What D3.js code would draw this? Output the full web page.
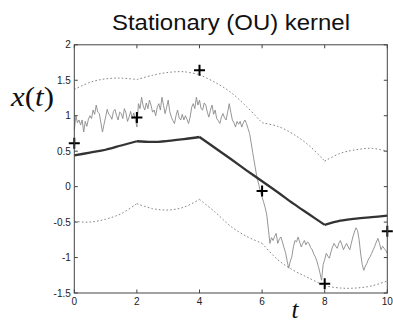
<!DOCTYPE html>
<html><head><meta charset="utf-8">
<script src="https://cdn.jsdelivr.net/npm/d3@7"></script>
<style>html,body{margin:0;padding:0;background:#fff;}svg{display:block;}</style>
</head><body>
<script>
// ---- data ----
const title = "Stationary (OU) kernel";
const xTicks = [0, 2, 4, 6, 8, 10];
const yTicks = [-1.5, -1, -0.5, 0, 0.5, 1, 1.5, 2];
const xDomain = [0, 10];
const yDomain = [-1.5, 2];

// observations (+)
const obsT = [0, 2, 4, 6, 8, 10];
const obsX = [0.61, 0.975, 1.64, -0.06, -1.37, -0.63];

// posterior mean and +-2 sd band, sampled on a grid (kinks at observation times)
const gridT = [0, 0.5, 1, 1.5, 2, 2.5, 3, 3.5, 4, 4.5, 5, 5.5, 6, 6.5, 7, 7.5, 8, 8.5, 9, 9.5, 10];
const meanX = [0.44, 0.48, 0.52, 0.58, 0.64, 0.63, 0.645, 0.67, 0.70, 0.545, 0.39, 0.23, 0.075, -0.08, -0.24, -0.39, -0.54, -0.48, -0.45, -0.43, -0.41];
const upperX = [1.37, 1.47, 1.52, 1.53, 1.51, 1.57, 1.61, 1.62, 1.58, 1.47, 1.33, 1.13, 0.90, 0.85, 0.74, 0.58, 0.36, 0.47, 0.52, 0.54, 0.50];
const lowerX = [-0.49, -0.50, -0.46, -0.38, -0.24, -0.31, -0.33, -0.29, -0.18, -0.36, -0.56, -0.70, -0.80, -1.03, -1.18, -1.29, -1.40, -1.43, -1.43, -1.40, -1.33];

// sample path, step 0.05 from t=0 to t=10
const sampleStep = 0.05;
const sampleX = [
 0.80,1.00,0.90,0.94,0.87,0.94,0.77,0.92,0.85,0.95,
 1.00,0.96,1.08,1.02,1.15,1.05,1.03,0.90,0.77,0.88,
 0.98,1.09,1.02,1.00,0.95,1.06,1.09,1.00,0.94,1.05,
 1.03,0.96,1.10,1.04,0.92,0.98,1.06,0.96,1.04,0.95,
 0.84,1.17,1.10,1.26,1.14,1.08,1.18,1.10,1.22,1.15,
 1.05,1.08,1.00,1.12,1.17,1.08,1.26,1.15,1.03,1.12,
 1.22,1.06,0.98,0.93,0.89,1.00,1.08,0.97,0.94,1.02,
 0.94,1.00,0.95,0.89,0.98,1.12,1.17,1.10,1.26,1.15,
 1.22,1.10,1.08,1.18,1.15,1.05,0.98,1.08,1.15,1.02,
 1.08,0.96,0.93,0.89,0.98,1.03,0.97,0.94,1.05,1.17,
 1.05,0.94,0.90,0.84,0.92,0.88,0.92,0.84,0.90,0.94,
 0.89,0.82,0.75,0.62,0.48,0.35,0.22,0.10,0.02,-0.08,
 -0.15,-0.22,-0.30,-0.40,-0.60,-0.80,-0.72,-0.76,-0.70,-0.66,
 -0.80,-0.74,-0.71,-0.78,-0.86,-0.93,-1.05,-1.15,-1.05,-0.99,
 -0.85,-0.76,-0.78,-0.71,-0.78,-0.85,-0.80,-0.76,-0.82,-0.78,
 -0.80,-0.86,-0.89,-0.95,-0.99,-1.05,-1.13,-1.22,-1.32,-1.10,
 -1.03,-0.94,-0.98,-1.01,-0.92,-0.85,-0.80,-0.84,-0.87,-0.80,
 -0.76,-0.82,-0.89,-0.84,-0.80,-0.85,-0.89,-0.80,-0.71,-0.64,
 -0.58,-0.62,-0.75,-0.95,-1.10,-1.18,-1.12,-1.08,-1.02,-0.99,
 -0.94,-0.89,-0.84,-0.78,-0.73,-0.80,-0.89,-0.84,-0.87,-0.90,
 -0.94
];

// ---- chart ----
const W = 393, H = 324;
const m = {left: 74.3, right: 393 - 387.3, top: 44.8, bottom: 324 - 293};
const svg = d3.select("body").append("svg").attr("width", W).attr("height", H);

const x = d3.scaleLinear().domain(xDomain).range([m.left, W - m.right]);
const y = d3.scaleLinear().domain(yDomain).range([H - m.bottom, m.top]);

const frameColor = "#444";

// lines, drawn per observation interval so kinks stay sharp
function segLine(vals) {
  const pts = gridT.map((t, i) => [t, vals[i]]);
  const segs = [];
  for (let k = 0; k < obsT.length - 1; k++) {
    segs.push(pts.filter(p => p[0] >= obsT[k] - 1e-9 && p[0] <= obsT[k + 1] + 1e-9));
  }
  return segs;
}
const lineGen = d3.line().x(d => x(d[0])).y(d => y(d[1])).curve(d3.curveCatmullRom.alpha(0.5));

const plot = svg.append("g");

// band (dotted)
[upperX, lowerX].forEach(arr => {
  const pathD = segLine(arr).map(s => lineGen(s)).join("");
  plot.append("path").attr("d", pathD).attr("fill", "none")
    .attr("stroke", "#777").attr("stroke-width", 0.9).attr("stroke-dasharray", "1.6,2.2");
});

// sample path
const sampleLine = d3.line().x((d, i) => x(i * sampleStep)).y(d => y(d));
plot.append("path").attr("d", sampleLine(sampleX)).attr("fill", "none")
  .attr("stroke", "#8a8a8a").attr("stroke-width", 0.9).attr("stroke-linejoin", "round");

// mean
plot.append("path").attr("d", segLine(meanX).map(s => lineGen(s)).join(""))
  .attr("fill", "none").attr("stroke", "#333").attr("stroke-width", 2.3);

// observations
const ms = 5.5;
obsT.forEach((t, i) => {
  const cx = x(t), cy = y(obsX[i]);
  plot.append("path")
    .attr("d", `M${cx - ms},${cy}H${cx + ms}M${cx},${cy - ms}V${cy + ms}`)
    .attr("stroke", "#000").attr("stroke-width", 2).attr("fill", "none");
});

// frame
svg.append("rect").attr("x", x(0)).attr("y", y(2)).attr("width", x(10) - x(0)).attr("height", y(-1.5) - y(2))
  .attr("fill", "none").attr("stroke", frameColor).attr("stroke-width", 1);

// ticks
const tl = 3.5;
const axisFont = "Liberation Sans, Arial, sans-serif";
xTicks.forEach(t => {
  svg.append("line").attr("x1", x(t)).attr("x2", x(t)).attr("y1", y(-1.5)).attr("y2", y(-1.5) - tl).attr("stroke", frameColor);
  svg.append("line").attr("x1", x(t)).attr("x2", x(t)).attr("y1", y(2)).attr("y2", y(2) + tl).attr("stroke", frameColor);
  svg.append("text").attr("x", x(t)).attr("y", y(-1.5) + 12).attr("text-anchor", "middle")
    .attr("font-family", axisFont).attr("font-size", 10).attr("fill", "#222").text(d3.format("")(t));
});
yTicks.forEach(v => {
  svg.append("line").attr("x1", x(0)).attr("x2", x(0) + tl).attr("y1", y(v)).attr("y2", y(v)).attr("stroke", frameColor);
  svg.append("line").attr("x1", x(10)).attr("x2", x(10) - tl).attr("y1", y(v)).attr("y2", y(v)).attr("stroke", frameColor);
  svg.append("text").attr("x", x(0) - 3.5).attr("y", y(v) + 3.5).attr("text-anchor", "end")
    .attr("font-family", axisFont).attr("font-size", 10).attr("fill", "#222").text(String(v));
});

// title
svg.append("text").attr("x", 112).attr("y", 29.5)
  .attr("font-family", axisFont).attr("font-size", 22).attr("fill", "#111")
  .attr("textLength", 238).attr("lengthAdjust", "spacingAndGlyphs").text(title);

// y label x(t)
const yl = svg.append("text").attr("x", 11).attr("y", 106)
  .attr("font-family", "Liberation Serif, DejaVu Serif, serif").attr("font-size", 27).attr("fill", "#111")
  .attr("textLength", 43).attr("lengthAdjust", "spacingAndGlyphs");
yl.append("tspan").attr("font-style", "italic").text("x");
yl.append("tspan").text("(");
yl.append("tspan").attr("font-style", "italic").text("t");
yl.append("tspan").text(")");

// x label t
svg.append("text").attr("x", 295).attr("y", 318).attr("text-anchor", "middle")
  .attr("font-family", "Liberation Serif, DejaVu Serif, serif").attr("font-size", 25)
  .attr("font-style", "italic").attr("fill", "#111").text("t");
</script>
</body></html>
